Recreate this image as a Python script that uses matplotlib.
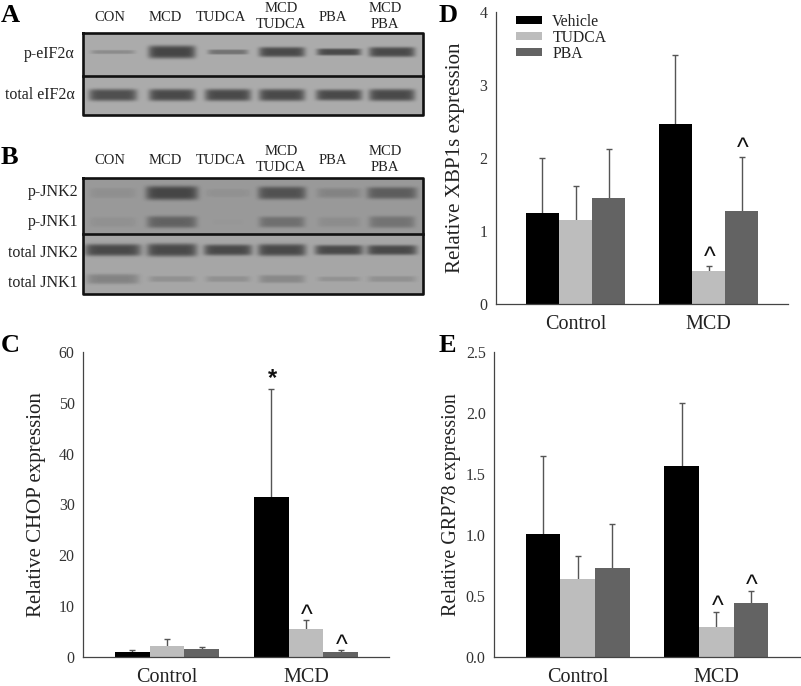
import numpy as np
import matplotlib
matplotlib.use("Agg")
import matplotlib.pyplot as plt

plt.rcParams["font.family"] = ["Liberation Serif", "DejaVu Serif"]

W, H = 801, 686

# ===============================
# Bar data
# ===============================
groups = ["Control", "MCD"]
treatments = ["Vehicle", "TUDCA", "PBA"]
colores = ["#000000", "#bdbdbd", "#636363"]

chop_vals = [[1.0, 31.5], [2.2, 5.5], [1.5, 0.9]]
chop_err = [[0.45, 21.3], [1.3, 1.8], [0.4, 0.45]]
chop_ticks = [0, 10, 20, 30, 40, 50, 60]

xbp_vals = [[1.24, 2.46], [1.15, 0.45], [1.45, 1.28]]
xbp_err = [[0.76, 0.95], [0.46, 0.07], [0.68, 0.74]]
xbp_ticks = [0, 1, 2, 3, 4]

grp_vals = [[1.01, 1.565], [0.64, 0.25], [0.73, 0.44]]
grp_err = [[0.64, 0.515], [0.19, 0.12], [0.36, 0.10]]
grp_ticks = ["0.0", "0.5", "1.0", "1.5", "2.0", "2.5"]

# ===============================
# Blot data: per lane half thickness, width (px) and darkness (0-1)
# ===============================
lanes = ["CON", "MCD", "TUDCA", "MCD\nTUDCA", "PBA", "MCD\nPBA"]
lane_x = [113, 172, 228, 282, 339, 392]
lane_lab_x = [110, 165, 221, 281, 333, 385]

a_rows = [52, 95]
a_thick = [[2, 6.5, 2.5, 5, 3.5, 5], [6, 6, 6, 6, 5.5, 6]]
a_width = [[44, 47, 40, 46, 44, 46], [48, 46, 46, 46, 46, 46]]
a_dark = [[0.3, 1.0, 0.55, 0.95, 0.95, 0.95], [0.9, 0.95, 0.95, 0.95, 0.95, 0.95]]

b_rows = [193, 222, 250, 279]
b_thick = [[5, 7, 4, 6.5, 5, 6], [5, 6, 3, 5.5, 5, 6], [6, 6.5, 5.5, 6, 5, 5], [5, 3, 3, 4, 2.5, 3]]
b_width = [[46, 52, 44, 48, 44, 50], [46, 50, 30, 46, 42, 46], [56, 50, 48, 48, 48, 50], [52, 46, 44, 46, 42, 48]]
b_dark = [
    [0.12, 1.0, 0.1, 0.85, 0.25, 0.72],
    [0.1, 0.65, 0.03, 0.5, 0.15, 0.45],
    [0.95, 0.95, 0.95, 0.95, 0.95, 0.95],
    [0.35, 0.22, 0.22, 0.3, 0.2, 0.22],
]


def dibujar_blot(ov, x0, x1, y0, y1, div, rows, thick, width, dark, bg_top, bg_bot):
    """Gel image from the band tables, in figure pixel coordinates."""
    ys, xs = np.mgrid[y0:y1, x0:x1] + 0.5
    bg = np.where(ys < div, bg_top, bg_bot)
    img = bg.copy()
    for r, y in enumerate(rows):
        for i, x in enumerate(lane_x):
            u = (xs - x) / (width[r][i] / 2)
            v = (ys - y) / thick[r][i]
            img -= (bg - 0.27) * dark[r][i] * np.exp(-u**8) * np.exp(-v**4)
    ov.imshow(img, cmap="gray", vmin=0, vmax=1, extent=(x0, x1, y1, y0), aspect="auto",
              interpolation="bilinear", zorder=1)
    ov.plot([x0, x1, x1, x0, x0], [y0, y0, y1, y1, y0], color="#111111", lw=1.9, zorder=2)
    ov.plot([x0, x1], [div, div], color="#111111", lw=1.9, zorder=2)


def panel_barras(px, vals, err, ticks, labels, ylabel, label_x, label_fs, width_px, left_px, ymax):
    """Bar panel. px = (left, right, top, bottom) of the axes in pixels."""
    l, r, t, b = px
    ax = fig.add_axes([l / W, 1 - b / H, (r - l) / W, (b - t) / H])
    x = np.arange(len(groups))
    bw = width_px[0] / width_px[1]
    for i, name in enumerate(treatments):
        pos = x + (i - 1) * bw
        ax.errorbar(pos, vals[i], yerr=err[i], fmt="none", ecolor="#555555", elinewidth=1.0,
                    capsize=2.0, capthick=1.0, zorder=1)
        ax.bar(pos, vals[i], width=bw, color=colores[i], label=name, zorder=2)
    # axis limits so the group centres land where they do in the figure
    ax.set_xlim((l - left_px) / width_px[1], (r - left_px) / width_px[1])
    ax.set_ylim(0, ymax)
    ax.set_xticks(x)
    ax.set_xticklabels(groups, fontsize=14.5, color="#222222")
    ax.set_yticks([float(v) for v in ticks])
    ax.set_yticklabels(labels, fontsize=11.5, color="#333333")
    ax.tick_params(axis="both", length=0)
    ax.tick_params(axis="x", pad=8)
    ax.tick_params(axis="y", pad=6)
    ax.set_ylabel(ylabel, fontsize=label_fs, color="#222222")
    ax.yaxis.set_label_coords(label_x, 0.5)
    for s in ["top", "right"]:
        ax.spines[s].set_visible(False)
    for s in ["left", "bottom"]:
        ax.spines[s].set_color("#444444")
        ax.spines[s].set_linewidth(0.9)
    return ax, bw


def marca(ax, x, y, txt="^", dy=4):
    # significance mark above the error bar
    ax.annotate(txt, xy=(x, y), xytext=(0.8, dy), textcoords="offset points", ha="center",
                va="center", fontsize=18 if txt == "^" else 17, family=["Liberation Sans"],
                color="#111111", fontweight="normal" if txt == "^" else "bold", zorder=3)


fig = plt.figure(figsize=(W / 100, H / 100), dpi=100)

# Overlay in pixel coordinates for the blots and the free text
ov = fig.add_axes([0, 0, 1, 1])
ov.axis("off")

dibujar_blot(ov, 83, 423, 33, 115, 76, a_rows, a_thick, a_width, a_dark, 0.67, 0.67)
dibujar_blot(ov, 83, 423, 178, 294, 234, b_rows, b_thick, b_width, b_dark, 0.60, 0.65)
ov.set_xlim(0, W)
ov.set_ylim(H, 0)

# Lane labels
for tx, name in zip(lane_lab_x, lanes):
    if "\n" in name:
        y_a, y_b = 16.5, 159.5
    else:
        y_a, y_b = 17.5, 160.5
    ov.text(tx, y_a, name, ha="center", va="center", fontsize=10.5, color="#222222", linespacing=1.3)
    ov.text(tx, y_b, name, ha="center", va="center", fontsize=10.5, color="#222222", linespacing=1.3)

# Row labels
for y, name in [(54, "p-eIF2α"), (95, "total eIF2α")]:
    ov.text(75, y, name, ha="right", va="center", fontsize=11.5, color="#222222")
for y, name in [(192, "p-JNK2"), (222, "p-JNK1"), (253, "total JNK2"), (283, "total JNK1")]:
    ov.text(78, y, name, ha="right", va="center", fontsize=11.5, color="#222222")

# Panel letters
for x, y, name in [(1, 16, "A"), (1, 157, "B"), (1, 346, "C"), (439, 15, "D"), (439, 345, "E")]:
    ov.text(x, y, name, ha="left", va="center", fontsize=19, fontweight="bold", color="#000000")

# ===============================
# Panels C, D, E
# ===============================
ax_c, bw = panel_barras((83, 389, 352, 657), chop_vals, chop_err, chop_ticks,
                        [str(v) for v in chop_ticks], "Relative CHOP expression",
                        -0.122, 15, (34.7, 139), 167, 60)
marca(ax_c, 1 - bw, chop_vals[0][1] + chop_err[0][1], "*", 7)
marca(ax_c, 1, chop_vals[1][1] + chop_err[1][1], dy=3)
marca(ax_c, 1 + bw, chop_vals[2][1] + chop_err[2][1], dy=3)

ax_d, bw = panel_barras((495.7, 788, 12, 304), xbp_vals, xbp_err, xbp_ticks,
                        [str(v) for v in xbp_ticks], "Relative XBP1s expression",
                        -0.106, 15.1, (33.2, 133), 575.5, 4)
marca(ax_d, 1, xbp_vals[1][1] + xbp_err[1][1], dy=5.5)
marca(ax_d, 1 + bw, xbp_vals[2][1] + xbp_err[2][1], dy=5.5)
ax_d.legend(loc="upper left", bbox_to_anchor=(0.07, 0.993), frameon=False, fontsize=11.3,
            handlelength=1.65, handleheight=0.4, labelspacing=0.0, handletextpad=0.65,
            labelcolor="#222222", borderpad=0, borderaxespad=0)

ax_e, bw = panel_barras((494, 800, 352, 657), grp_vals, grp_err, grp_ticks, grp_ticks,
                        "Relative GRP78 expression", -0.108, 14.5, (34.7, 138.7), 577.7, 2.5)
marca(ax_e, 1, grp_vals[1][1] + grp_err[1][1], dy=3.5)
marca(ax_e, 1 + bw, grp_vals[2][1] + grp_err[2][1], dy=3.5)

fig.savefig("out.png", dpi=100)
